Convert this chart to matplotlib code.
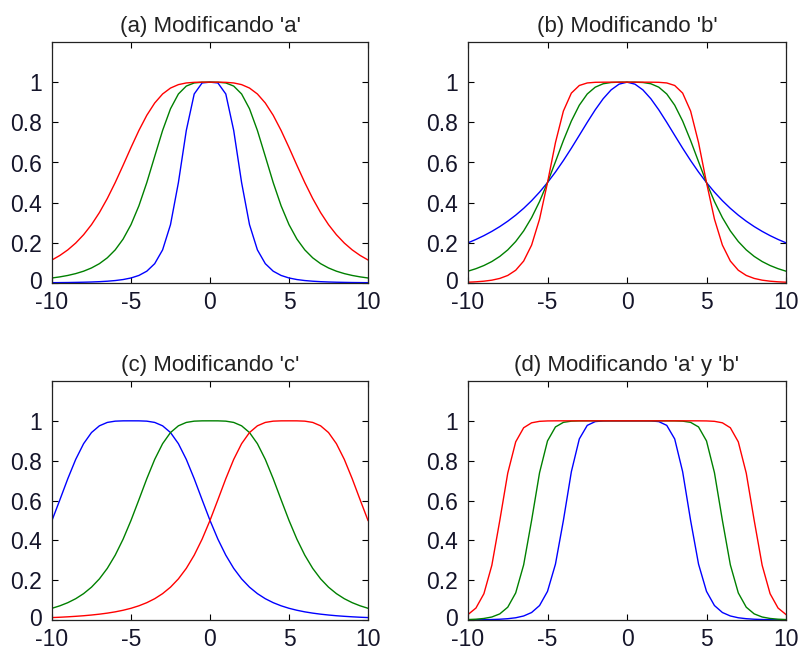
import numpy as np
import matplotlib
matplotlib.use("Agg")
import matplotlib.pyplot as plt
import matplotlib.transforms as mtransforms

# shared x grid (-10 .. 10, step 0.5)
X = [-10.0, -9.5, -9.0, -8.5, -8.0, -7.5, -7.0, -6.5, -6.0, -5.5,
     -5.0, -4.5, -4.0, -3.5, -3.0, -2.5, -2.0, -1.5, -1.0, -0.5,
     0.0, 0.5, 1.0, 1.5, 2.0, 2.5, 3.0, 3.5, 4.0, 4.5,
     5.0, 5.5, 6.0, 6.5, 7.0, 7.5, 8.0, 8.5, 9.0, 9.5, 10.0]

# (a) Modificando 'a'
A_BLUE = [0.0016, 0.0020, 0.0024, 0.0031, 0.0039, 0.0050, 0.0066, 0.0089, 0.0122, 0.0172,
          0.0250, 0.0376, 0.0588, 0.0963, 0.1649, 0.2906, 0.5, 0.7596, 0.9412, 0.9961,
          1.0,
          0.9961, 0.9412, 0.7596, 0.5, 0.2906, 0.1649, 0.0963, 0.0588, 0.0376, 0.0250,
          0.0172, 0.0122, 0.0089, 0.0066, 0.0050, 0.0039, 0.0031, 0.0024, 0.0020, 0.0016]
A_GREEN = [0.0250, 0.0305, 0.0376, 0.0468, 0.0588, 0.0749, 0.0963, 0.1254, 0.1649, 0.2186,
           0.2906, 0.3844, 0.5, 0.6305, 0.7596, 0.8676, 0.9412, 0.9806, 0.9961, 0.9998,
           1.0,
           0.9998, 0.9961, 0.9806, 0.9412, 0.8676, 0.7596, 0.6305, 0.5, 0.3844, 0.2906,
           0.2186, 0.1649, 0.1254, 0.0963, 0.0749, 0.0588, 0.0468, 0.0376, 0.0305, 0.0250]
A_RED = [0.1147, 0.1373, 0.1649, 0.1989, 0.2404, 0.2906, 0.3506, 0.4207, 0.5, 0.5861,
         0.6746, 0.7596, 0.8351, 0.8962, 0.9412, 0.9707, 0.9878, 0.9961, 0.9992, 1.0,
         1.0,
         1.0, 0.9992, 0.9961, 0.9878, 0.9707, 0.9412, 0.8962, 0.8351, 0.7596, 0.6746,
         0.5861, 0.5, 0.4207, 0.3506, 0.2906, 0.2404, 0.1989, 0.1649, 0.1373, 0.1147]

# (b) Modificando 'b'
B_BLUE = [0.2, 0.2169, 0.2358, 0.2571, 0.2809, 0.3077, 0.3378, 0.3717, 0.4098, 0.4525,
          0.5, 0.5525, 0.6098, 0.6711, 0.7353, 0.8, 0.8621, 0.9174, 0.9615, 0.9901,
          1.0,
          0.9901, 0.9615, 0.9174, 0.8621, 0.8, 0.7353, 0.6711, 0.6098, 0.5525, 0.5,
          0.4525, 0.4098, 0.3717, 0.3378, 0.3077, 0.2809, 0.2571, 0.2358, 0.2169, 0.2]
B_GREEN = [0.0588, 0.0713, 0.0870, 0.1069, 0.1324, 0.1649, 0.2065, 0.2593, 0.3254, 0.4058,
           0.5, 0.6038, 0.7094, 0.8064, 0.8853, 0.9412, 0.9750, 0.9920, 0.9984, 0.9999,
           1.0,
           0.9999, 0.9984, 0.9920, 0.9750, 0.9412, 0.8853, 0.8064, 0.7094, 0.6038, 0.5,
           0.4058, 0.3254, 0.2593, 0.2065, 0.1649, 0.1324, 0.1069, 0.0870, 0.0713, 0.0588]
B_RED = [0.0039, 0.0059, 0.0090, 0.0141, 0.0228, 0.0376, 0.0635, 0.1092, 0.1887, 0.3181,
         0.5, 0.6990, 0.8563, 0.9455, 0.9835, 0.9961, 0.9993, 0.9999, 1.0, 1.0,
         1.0,
         1.0, 1.0, 0.9999, 0.9993, 0.9961, 0.9835, 0.9455, 0.8563, 0.6990, 0.5,
         0.3181, 0.1887, 0.1092, 0.0635, 0.0376, 0.0228, 0.0141, 0.0090, 0.0059, 0.0039]

# (c) Modificando 'c'
C_BLUE = [0.5, 0.6038, 0.7094, 0.8064, 0.8853, 0.9412, 0.9750, 0.9920, 0.9984, 0.9999,
          1.0, 0.9999, 0.9984, 0.9920, 0.9750, 0.9412, 0.8853, 0.8064, 0.7094, 0.6038,
          0.5,
          0.4058, 0.3254, 0.2593, 0.2065, 0.1649, 0.1324, 0.1069, 0.0870, 0.0713, 0.0588,
          0.0489, 0.0409, 0.0345, 0.0293, 0.0250, 0.0214, 0.0185, 0.0160, 0.0139, 0.0122]
C_GREEN = [0.0588, 0.0713, 0.0870, 0.1069, 0.1324, 0.1649, 0.2065, 0.2593, 0.3254, 0.4058,
           0.5, 0.6038, 0.7094, 0.8064, 0.8853, 0.9412, 0.9750, 0.9920, 0.9984, 0.9999,
           1.0,
           0.9999, 0.9984, 0.9920, 0.9750, 0.9412, 0.8853, 0.8064, 0.7094, 0.6038, 0.5,
           0.4058, 0.3254, 0.2593, 0.2065, 0.1649, 0.1324, 0.1069, 0.0870, 0.0713, 0.0588]
C_RED = [0.0122, 0.0139, 0.0160, 0.0185, 0.0214, 0.0250, 0.0293, 0.0345, 0.0409, 0.0489,
         0.0588, 0.0713, 0.0870, 0.1069, 0.1324, 0.1649, 0.2065, 0.2593, 0.3254, 0.4058,
         0.5,
         0.6038, 0.7094, 0.8064, 0.8853, 0.9412, 0.9750, 0.9920, 0.9984, 0.9999, 1.0,
         0.9999, 0.9984, 0.9920, 0.9750, 0.9412, 0.8853, 0.8064, 0.7094, 0.6038, 0.5]

# (d) Modificando 'a' y 'b'
D_BLUE = [0.0007, 0.0010, 0.0015, 0.0024, 0.0039, 0.0065, 0.0112, 0.0202, 0.0376, 0.0726,
          0.1437, 0.2804, 0.5, 0.7443, 0.9090, 0.9772, 0.9961, 0.9996, 1.0, 1.0,
          1.0,
          1.0, 1.0, 0.9996, 0.9961, 0.9772, 0.9090, 0.7443, 0.5, 0.2804, 0.1437,
          0.0726, 0.0376, 0.0202, 0.0112, 0.0065, 0.0039, 0.0024, 0.0015, 0.0010, 0.0007]
D_GREEN = [0.0022, 0.0040, 0.0077, 0.0151, 0.0307, 0.0643, 0.1359, 0.2768, 0.5, 0.7396,
           0.8991, 0.9693, 0.9924, 0.9984, 0.9998, 1.0, 1.0, 1.0, 1.0, 1.0,
           1.0,
           1.0, 1.0, 1.0, 1.0, 1.0, 0.9998, 0.9984, 0.9924, 0.9693, 0.8991,
           0.7396, 0.5, 0.2768, 0.1359, 0.0643, 0.0307, 0.0151, 0.0077, 0.0040, 0.0022]
D_RED = [0.0274, 0.0601, 0.1319, 0.2749, 0.5, 0.7374, 0.8944, 0.9652, 0.9901, 0.9975,
         0.9995, 0.9999, 1.0, 1.0, 1.0, 1.0, 1.0, 1.0, 1.0, 1.0,
         1.0,
         1.0, 1.0, 1.0, 1.0, 1.0, 1.0, 1.0, 1.0, 0.9999, 0.9995,
         0.9975, 0.9901, 0.9652, 0.8944, 0.7374, 0.5, 0.2749, 0.1319, 0.0601, 0.0274]

TITLES = ["(a) Modificando 'a'", "(b) Modificando 'b'",
          "(c) Modificando 'c'", "(d) Modificando 'a' y 'b'"]
SERIES = [(A_BLUE, A_GREEN, A_RED), (B_BLUE, B_GREEN, B_RED),
          (C_BLUE, C_GREEN, C_RED), (D_BLUE, D_GREEN, D_RED)]
COLORS = ["#0000ff", "#008000", "#ff0000"]
XTICKS = [-10, -5, 0, 5, 10]
YTICKS = [0, 0.2, 0.4, 0.6, 0.8, 1]
YTICKLABELS = ["0", "0.2", "0.4", "0.6", "0.8", "1"]

plt.rcParams["font.family"] = ["Liberation Sans", "DejaVu Sans"]

W, H = 798, 651
fig = plt.figure(figsize=(W / 100, H / 100), dpi=100)

# axes boxes in pixels: left, top, right, bottom
boxes = [(52, 42, 368, 283), (468, 42, 786, 283),
         (52, 381, 368, 620), (468, 381, 786, 620)]

# small upward shift for the "0" label so it clears the "-10" below it
lift = mtransforms.ScaledTranslation(0, 3 / 100, fig.dpi_scale_trans)

for box, title, ys in zip(boxes, TITLES, SERIES):
    l, t, r, b = box
    ax = fig.add_axes([l / W, 1 - b / H, (r - l) / W, (b - t) / H])
    for y, c in zip(ys, COLORS):
        ax.plot(X, y, color=c, linewidth=1.0)
    ax.set_xlim(-10, 10)
    ax.set_ylim(0, 1.2)
    ax.set_xticks(XTICKS)
    ax.set_xticklabels([str(v) for v in XTICKS])
    ax.set_yticks(YTICKS)
    ax.set_yticklabels(YTICKLABELS)
    ax.tick_params(direction="in", length=4, width=0.8, top=True, right=True,
                   labelsize=16.5, labelcolor="#15152a")
    ax.tick_params(axis="x", pad=6)
    ax.tick_params(axis="y", pad=7)
    for s in ax.spines.values():
        s.set_linewidth(0.9)
        s.set_color("#222222")
    ax.set_title(title, fontsize=16, color="#222222", pad=7)
    zero = ax.get_yticklabels()[0]
    zero.set_transform(zero.get_transform() + lift)

fig.savefig("out.png", dpi=100)
